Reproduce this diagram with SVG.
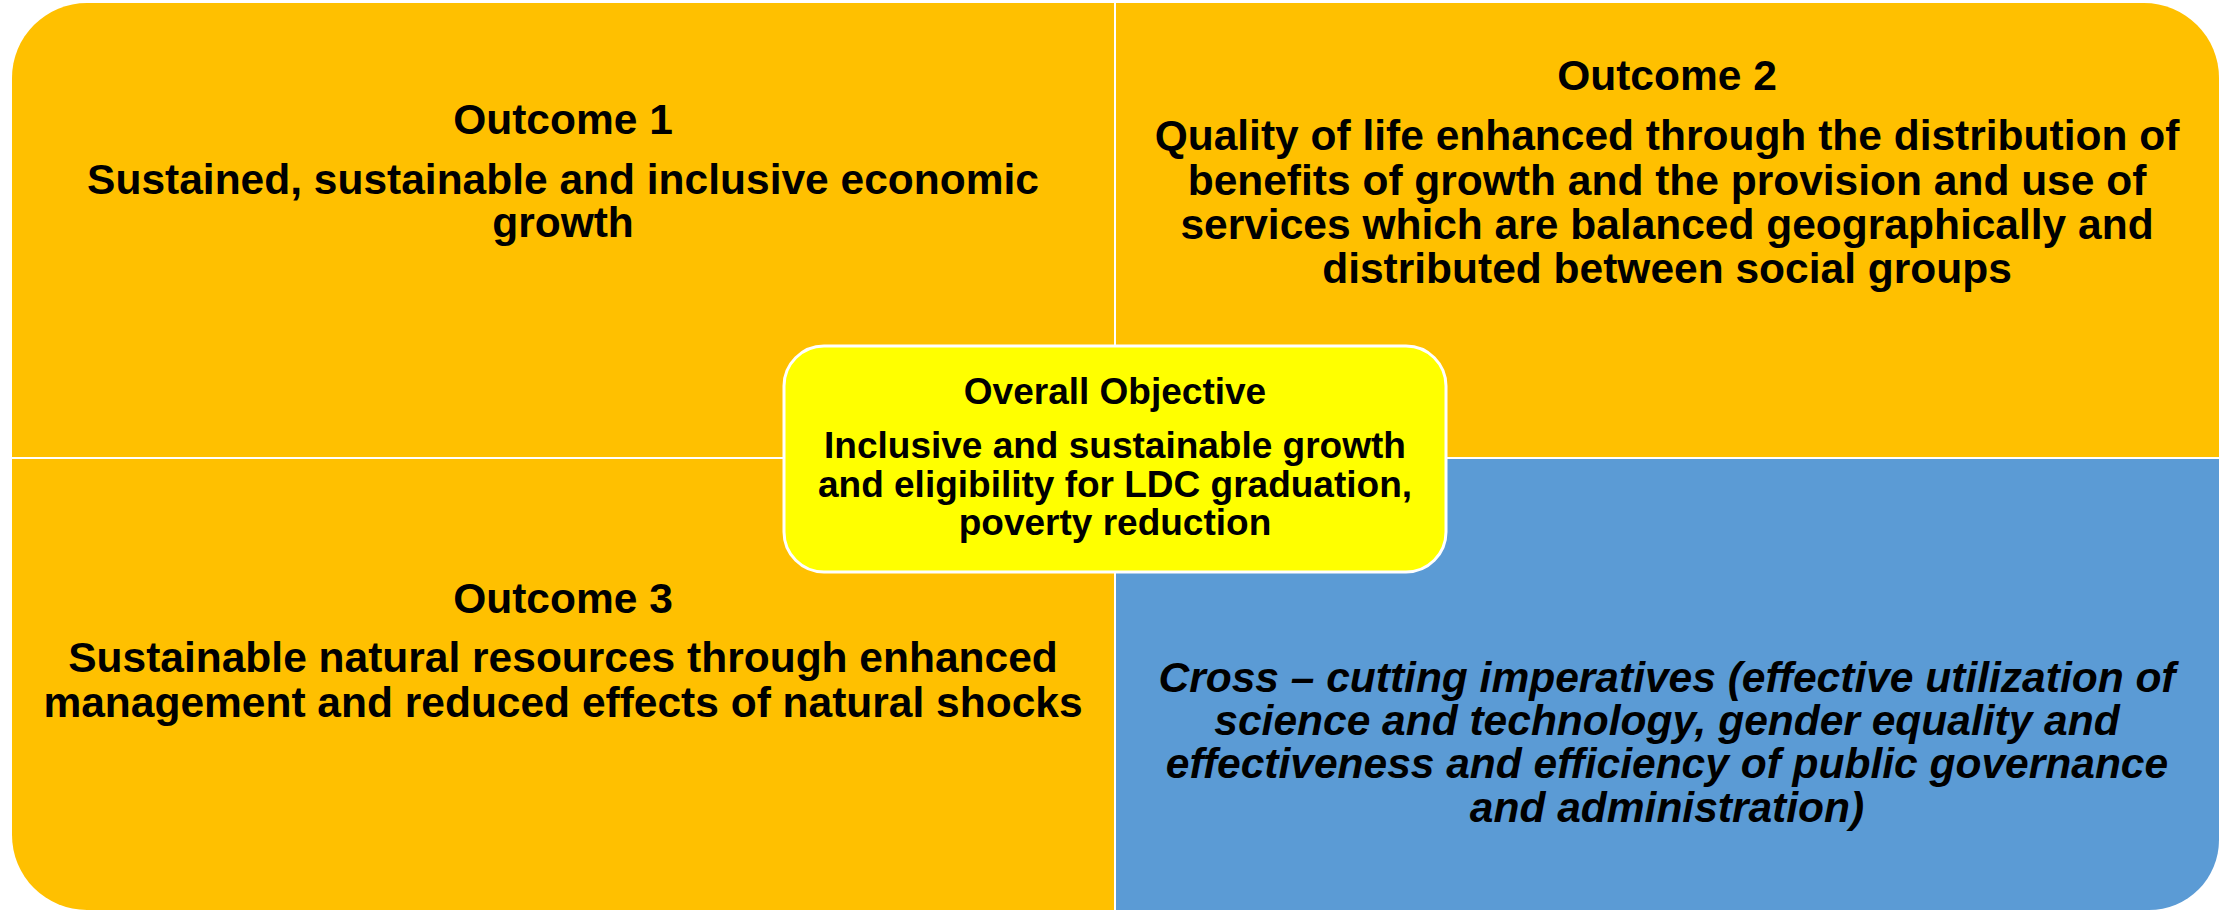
<svg xmlns="http://www.w3.org/2000/svg" width="2224" height="910" viewBox="0 0 2224 910">
<style>
.q{fill:#FFC000}
.b{fill:#5B9BD5}
.t{font-family:"Liberation Sans",Arial,sans-serif;font-weight:bold;font-size:42.5px;fill:#000;text-anchor:middle}
.i{font-style:italic}
.c{font-family:"Liberation Sans",Arial,sans-serif;font-weight:bold;font-size:37px;fill:#000;text-anchor:middle}
</style>
<rect width="2224" height="910" fill="#fff"/>
<g id="outcome1">
<path class="q" d="M12,78 A75,75 0 0 1 87,3 L1114,3 L1114,457 L12,457 Z"/>
<text class="t" x="563" y="134">Outcome 1</text>
<text class="t" x="563" y="194">Sustained, sustainable and inclusive economic</text>
<text class="t" x="563" y="237">growth</text>
</g>
<g id="outcome2">
<path class="q" d="M1116,3 L2144,3 A75,75 0 0 1 2219,78 L2219,457 L1116,457 Z"/>
<text class="t" x="1667" y="90">Outcome 2</text>
<text class="t" x="1667" y="150">Quality of life enhanced through the distribution of</text>
<text class="t" x="1667" y="195">benefits of growth and the provision and use of</text>
<text class="t" x="1667" y="239">services which are balanced geographically and</text>
<text class="t" x="1667" y="283">distributed between social groups</text>
</g>
<g id="outcome3">
<path class="q" d="M12,459 L1114,459 L1114,910 L87,910 A75,75 0 0 1 12,835 Z"/>
<text class="t" x="563" y="613">Outcome 3</text>
<text class="t" x="563" y="672">Sustainable natural resources through enhanced</text>
<text class="t" x="563" y="717">management and reduced effects of natural shocks</text>
</g>
<g id="crosscutting">
<path class="b" d="M1116,459 L2219,459 L2219,840 A70,70 0 0 1 2149,910 L1116,910 Z"/>
<text class="t i" x="1667" y="692">Cross – cutting imperatives (effective utilization of</text>
<text class="t i" x="1667" y="735">science and technology, gender equality and</text>
<text class="t i" x="1667" y="778">effectiveness and efficiency of public governance</text>
<text class="t i" x="1667" y="822">and administration)</text>
</g>
<g id="connectors"></g>
<g id="objective">
<rect x="784" y="346" width="662" height="226" rx="40" ry="40" fill="#FFFF00" stroke="#fff" stroke-width="3"/>
<text class="c" x="1115" y="404">Overall Objective</text>
<text class="c" x="1115" y="458">Inclusive and sustainable growth</text>
<text class="c" x="1115" y="497">and eligibility for LDC graduation,</text>
<text class="c" x="1115" y="535">poverty reduction</text>
</g>
</svg>
